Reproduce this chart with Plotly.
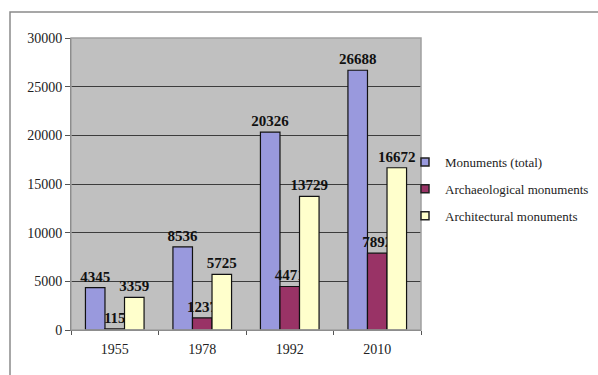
import plotly.graph_objects as go

years = ["1955", "1978", "1992", "2010"]
series_names = ["Monuments (total)", "Archaeological monuments", "Architectural monuments"]
total = [4345, 8536, 20326, 26688]
archaeological = [115, 1237, 4471, 7892]
architectural = [3359, 5725, 13729, 16672]
colors = ["#9999DD", "#993366", "#FFFFCC"]
y_ticks = [0, 5000, 10000, 15000, 20000, 25000, 30000]

W, H = 598, 375
ml, mr, mt, mb = 71, 177, 38, 45

fig = go.Figure()
for i, (name, vals) in enumerate(zip(series_names, [total, archaeological, architectural])):
    fig.add_trace(go.Bar(
        x=years, y=vals, name=name,
        marker=dict(color=colors[i], line=dict(color="#111111", width=1.2)),
        text=[str(v) for v in vals], textposition="outside",
        textfont=dict(family="Liberation Serif", size=15, color="#111111", weight="bold"),
        constraintext="none", cliponaxis=False,
        showlegend=False,
    ))
# legend entries with small square markers
for i, name in enumerate(series_names):
    fig.add_trace(go.Scatter(
        x=[None], y=[None], mode="markers", name=name,
        marker=dict(symbol="square", size=8, color=colors[i], line=dict(color="#222222", width=1.5)),
        legendgroup=f"g{i}", showlegend=True,
    ))

pw = W - ml - mr
ph = H - mt - mb
fig.update_layout(
    width=W, height=H,
    margin=dict(l=ml, r=mr, t=mt, b=mb, autoexpand=False),
    paper_bgcolor="white", plot_bgcolor="#C0C0C0",
    barmode="group", bargap=0.33, bargroupgap=0,
    showlegend=True,
    legend=dict(
        x=(405 - ml) / pw, xanchor="left",
        y=(mt + ph - 147) / ph, yanchor="top",
        font=dict(family="Liberation Serif", size=13, color="#222222"),
        traceorder="grouped", tracegroupgap=7,
        itemwidth=30, bgcolor="rgba(0,0,0,0)",
    ),
    xaxis=dict(
        type="category", showgrid=False,
        showline=True, linecolor="#555555", linewidth=1,
        ticks="outside", tickson="boundaries", ticklen=4, tickcolor="#555555",
        tickfont=dict(family="Liberation Serif", size=14, color="#222222"),
        ticklabelstandoff=6,
        mirror=False,
    ),
    yaxis=dict(
        range=[0, 30000], tickvals=y_ticks,
        ticktext=[str(v) for v in y_ticks],
        showgrid=True, gridcolor="#3C3C3C", gridwidth=1.3,
        showline=True, linecolor="#555555", linewidth=1,
        ticks="outside", ticklen=5, tickcolor="#555555",
        tickfont=dict(family="Liberation Serif", size=14, color="#222222"),
        zeroline=False,
    ),
    shapes=[
        dict(type="rect", xref="paper", yref="paper", x0=0, x1=1, y0=0, y1=1,
             line=dict(color="#A0A0A0", width=1.5), layer="above"),
        dict(type="rect", xref="paper", yref="paper",
             x0=(10 - ml) / pw, x1=(W + 20 - ml) / pw,
             y0=-(H + 20 - mt - ph) / ph, y1=(mt + ph - 12) / ph,
             line=dict(color="#8A8A8A", width=1.5), layer="below"),
    ],
)

fig.write_html("out.html")
